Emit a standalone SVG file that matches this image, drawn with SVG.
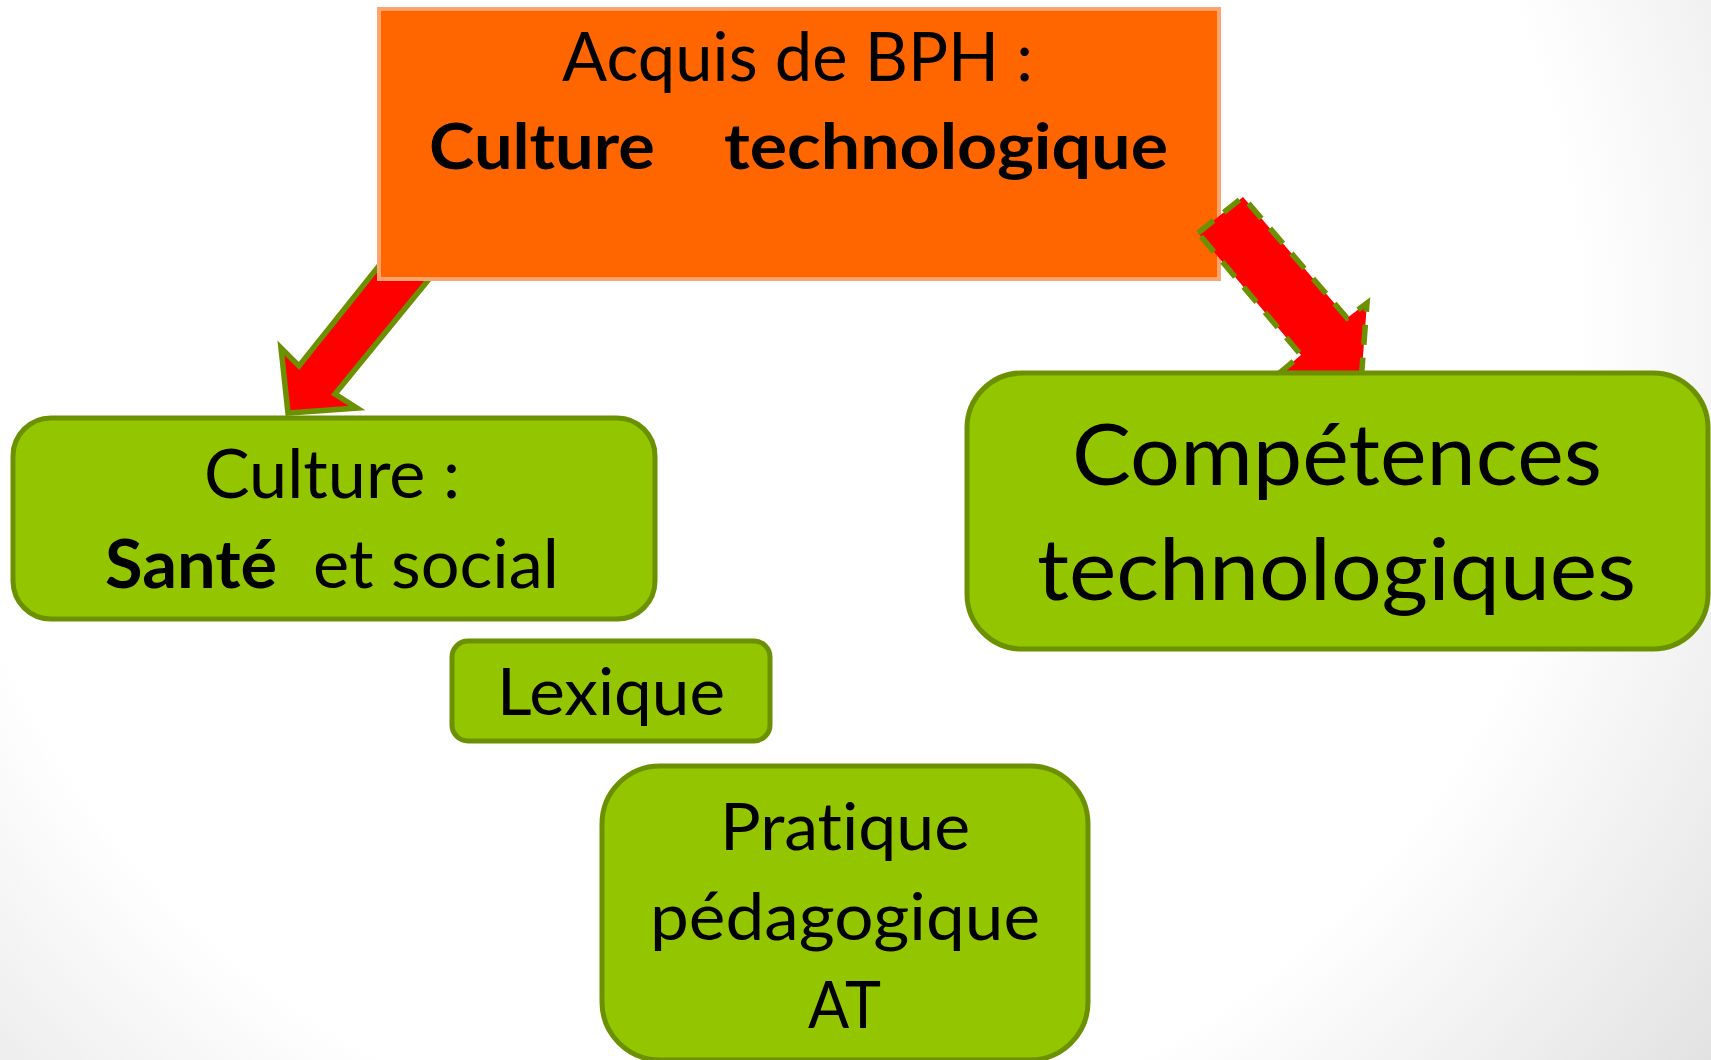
<svg xmlns="http://www.w3.org/2000/svg" width="1711" height="1060" viewBox="0 0 1711 1060">
  <defs>
    <radialGradient id="bg" gradientUnits="userSpaceOnUse" cx="760" cy="330" r="1200">
      <stop offset="0" stop-color="#ffffff"/>
      <stop offset="0.68" stop-color="#ffffff"/>
      <stop offset="1" stop-color="#e2e2e2"/>
    </radialGradient>
    <clipPath id="outsideTop">
      <path clip-rule="evenodd" d="M0 0H1711V1060H0Z M377 7H1221V281H377Z"/>
    </clipPath>
    <style>
      .t { font-family: Lato, "Liberation Sans", sans-serif; fill: #000000; font-variant-ligatures: none; font-feature-settings: "liga" 0, "clig" 0; }
      .b { font-weight: bold; }
      .green { fill: #94C600; stroke: #6C9100; stroke-width: 5; }
      .orange { fill: #FF6600; stroke: #FFA46E; stroke-width: 4; }
      .arrow { fill: #FF0000; stroke: #6C9100; stroke-width: 5.5; stroke-linejoin: miter; }
      .dashed { stroke-dasharray: 20 13; }
    </style>
  </defs>

  <rect x="0" y="0" width="1711" height="1060" fill="url(#bg)"/>

  <g id="node-acquis">
    <rect class="orange" x="379" y="9" width="840" height="270"/>
    <text class="t" x="562" y="81" font-size="67" textLength="471" lengthAdjust="spacingAndGlyphs">Acquis de BPH :</text>
    <text class="t b" y="169" font-size="64"><tspan x="429" textLength="226" lengthAdjust="spacingAndGlyphs">Culture</tspan><tspan x="724" textLength="444" lengthAdjust="spacingAndGlyphs">technologique</tspan></text>
  </g>

  <g id="connectors">
    <polygon class="arrow" clip-path="url(#outsideTop)" points="402,237 299,366 281,348 288,413 357,408 335,394 452,251"/>
    <polygon class="arrow dashed" points="1198,233 1243,197 1347,318 1367,303 1361,382 1282,371 1301,355"/>
  </g>

  <g id="node-culture">
    <rect class="green" x="13" y="418" width="642" height="201" rx="38" ry="38"/>
    <text class="t" x="204" y="498" font-size="67" textLength="256" lengthAdjust="spacingAndGlyphs">Culture :</text>
    <text class="t" y="588" font-size="67"><tspan class="b" x="105" textLength="172" lengthAdjust="spacingAndGlyphs">Santé</tspan><tspan x="313" textLength="246" lengthAdjust="spacingAndGlyphs">et social</tspan></text>
  </g>

  <g id="node-competences">
    <rect class="green" x="967" y="373" width="741" height="276" rx="55" ry="55"/>
    <text class="t" x="1072" y="485" font-size="85" textLength="530" lengthAdjust="spacingAndGlyphs">Compétences</text>
    <text class="t" x="1037" y="600" font-size="85" textLength="599" lengthAdjust="spacingAndGlyphs">technologiques</text>
  </g>

  <g id="node-lexique">
    <rect class="green" x="452" y="641" width="318" height="100" rx="16" ry="16"/>
    <text class="t" x="497" y="715" font-size="66" textLength="228" lengthAdjust="spacingAndGlyphs">Lexique</text>
  </g>

  <g id="node-pratique">
    <rect class="green" x="602" y="766" width="486" height="294" rx="58" ry="58"/>
    <text class="t" x="720" y="850" font-size="66" textLength="250" lengthAdjust="spacingAndGlyphs">Pratique</text>
    <text class="t" x="650" y="940" font-size="66" textLength="390" lengthAdjust="spacingAndGlyphs">pédagogique</text>
    <text class="t" x="808" y="1028" font-size="66" textLength="73" lengthAdjust="spacingAndGlyphs">AT</text>
  </g>
</svg>
